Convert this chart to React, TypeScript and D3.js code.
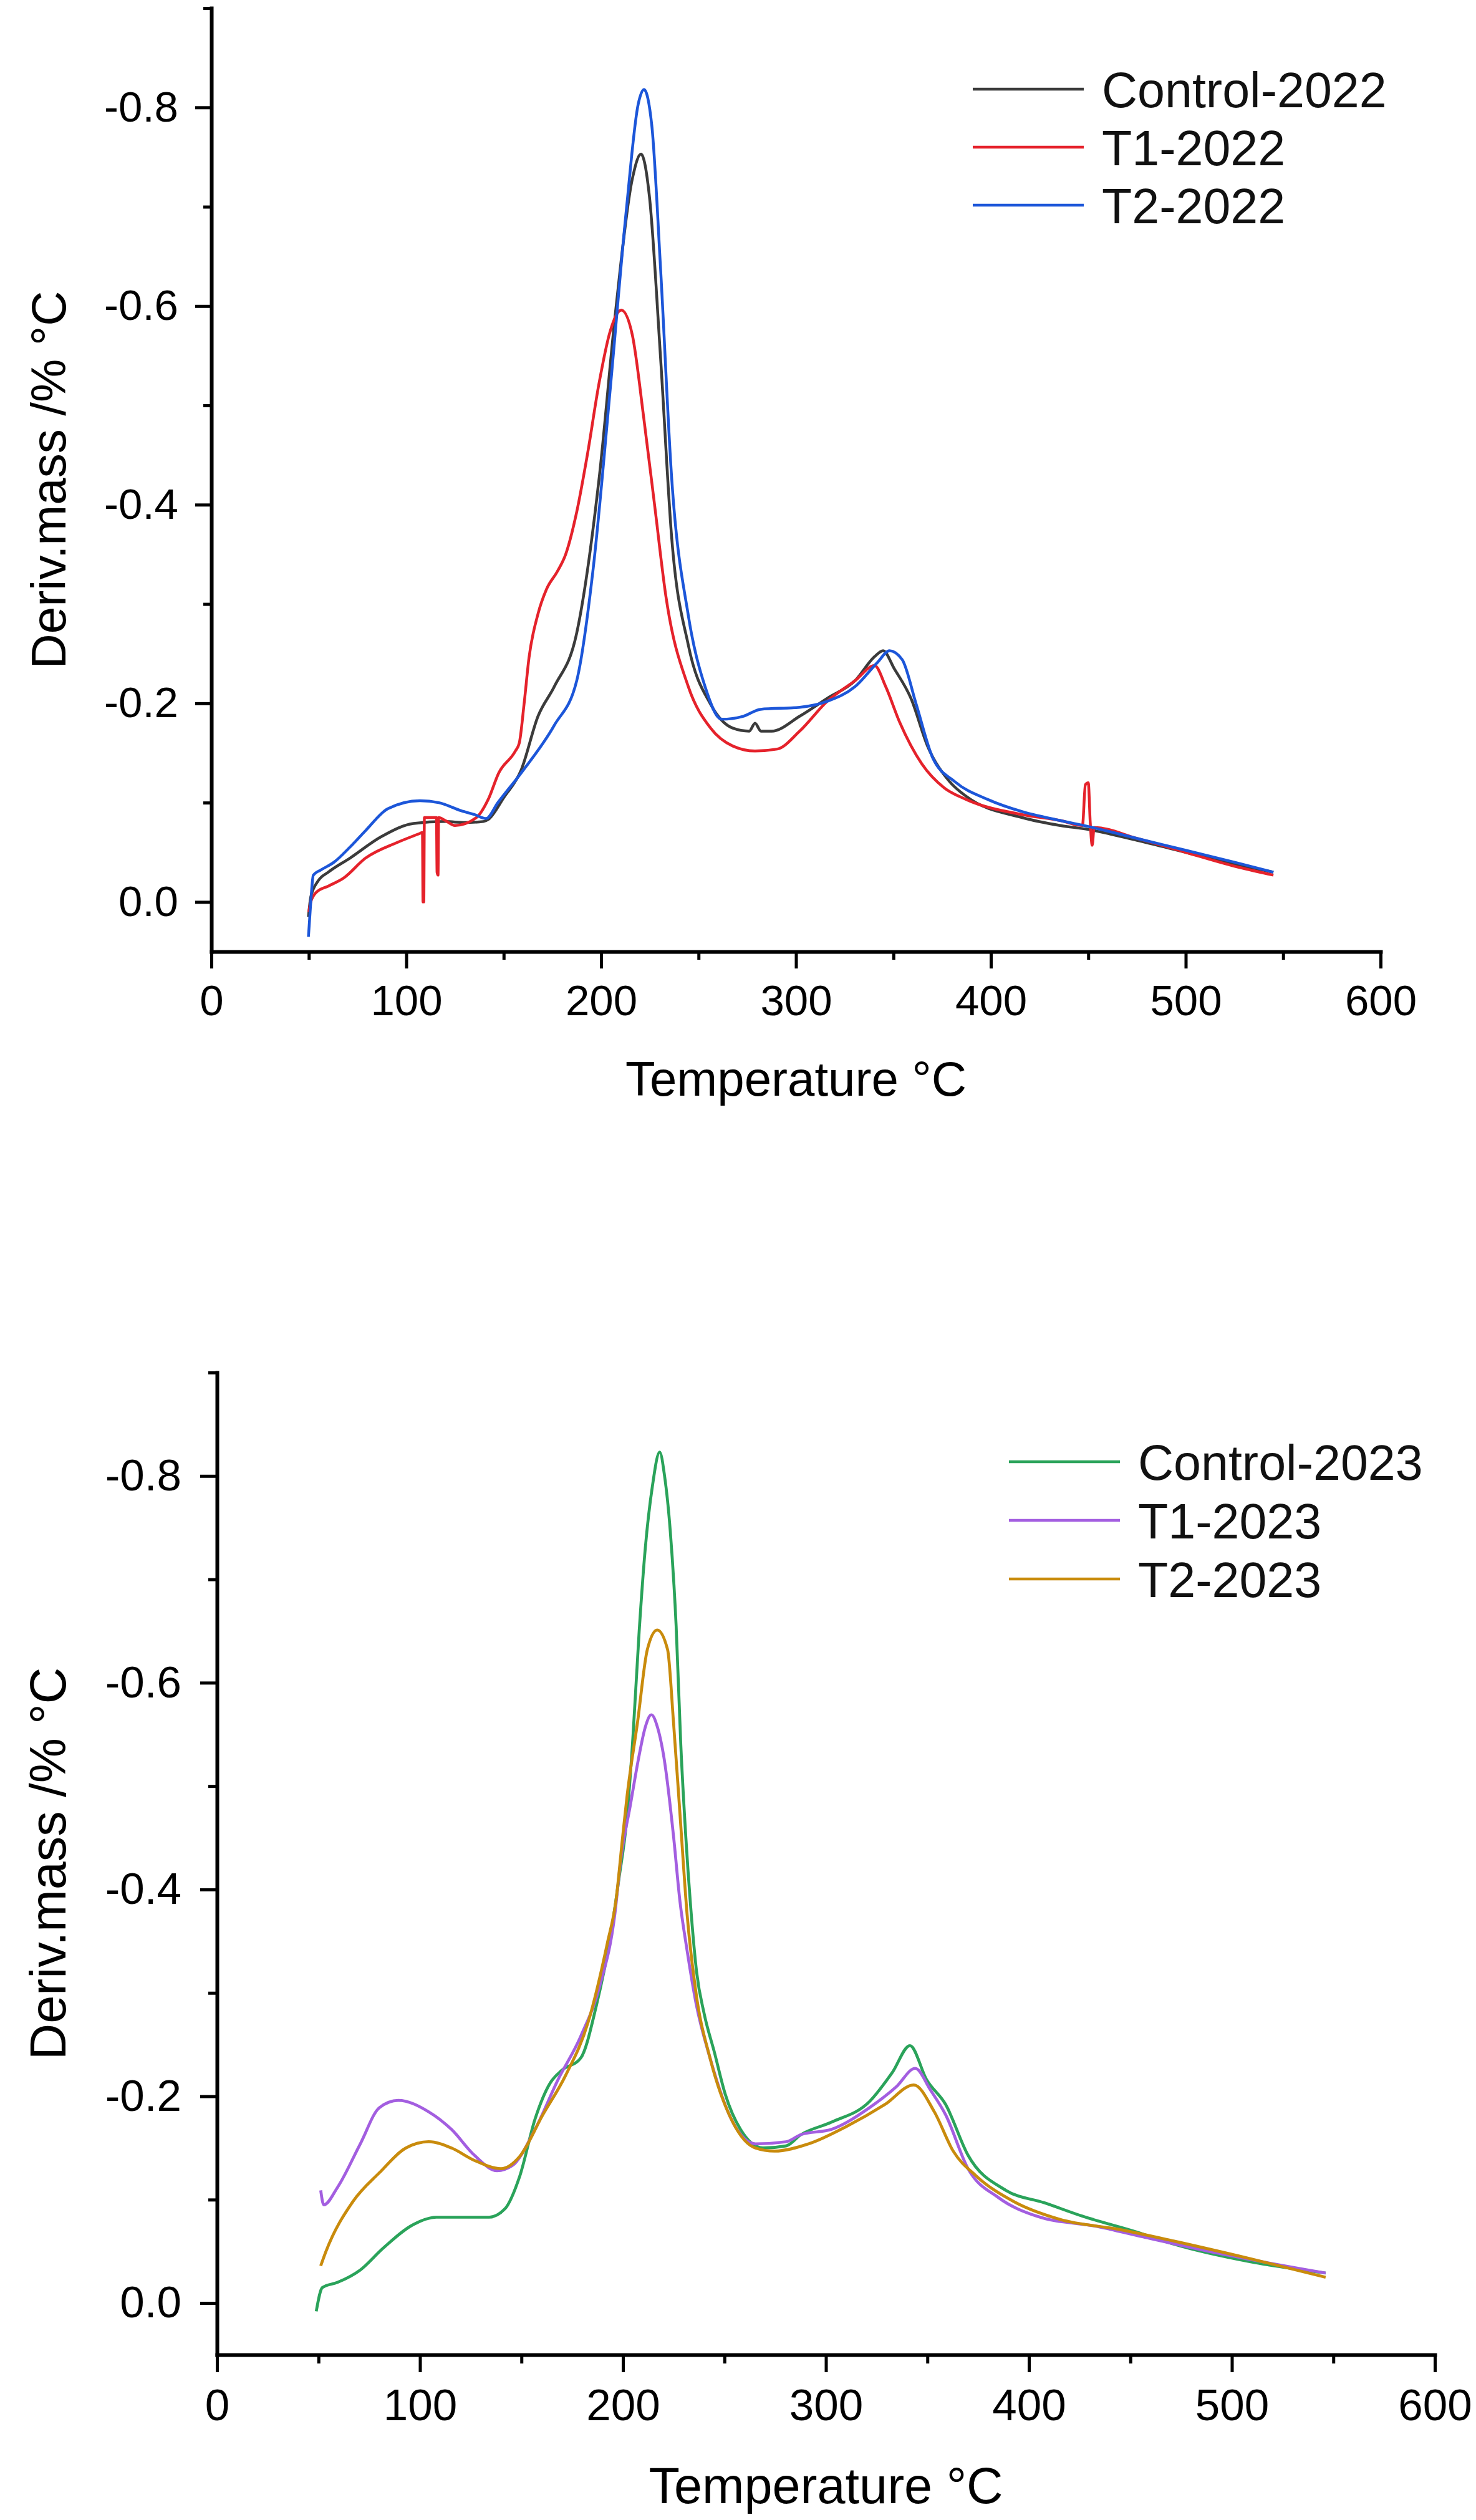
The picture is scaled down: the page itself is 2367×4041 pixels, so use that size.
import * as d3 from "d3";
import { useEffect, useRef } from "react";

type Pt = [number, number];

const xTicks = [0, 100, 200, 300, 400, 500, 600];
const xMinorTicks = [50, 150, 250, 350, 450, 550];
const yTicks = [0, -0.2, -0.4, -0.6, -0.8];
const yMinorTicks = [-0.1, -0.3, -0.5, -0.7, -0.9];

const xTitle = "Temperature °C";
const yTitle = "Deriv.mass /% °C";

// 2022 series: [temperature °C, deriv. mass %/°C]
const control2022: Pt[] = [
  [49.8, 0.015], [51, -0.005], [54.7, -0.021], [60, -0.03], [71, -0.044], [87.4, -0.066],
  [103.7, -0.079], [120, -0.081], [130, -0.08], [139.6, -0.081], [142, -0.083], [150, -0.105],
  [159, -0.133], [167.6, -0.187], [176, -0.217], [187.5, -0.271], [199, -0.427], [207.5, -0.596],
  [216, -0.728], [220.5, -0.753], [224.8, -0.71], [230.5, -0.548], [236.2, -0.367], [244.7, -0.259],
  [256.2, -0.199], [267.6, -0.175], [276, -0.172], [279, -0.18], [282, -0.172], [287.5, -0.172],
  [301.9, -0.187], [316, -0.205], [330.4, -0.223], [340.3, -0.247], [344.7, -0.253], [350.4, -0.235],
  [359, -0.205], [367.5, -0.157], [378.9, -0.121], [387.6, -0.106], [416, -0.085], [435.6, -0.077],
  [450, -0.073], [475, -0.062], [500, -0.05], [525, -0.038], [545, -0.03],
];

const t1_2022: Pt[] = [
  [50, 0.01], [51, 0.0], [54, -0.01], [60, -0.016], [67.8, -0.024], [79, -0.044], [95.5, -0.06],
  [107, -0.069], [108.3, -0.07], [108.6, 0.0], [109, 0.0], [109.3, -0.085], [115.5, -0.085],
  [115.8, -0.03], [116.3, -0.027], [116.6, -0.085], [120, -0.082], [125, -0.077], [136, -0.085],
  [142, -0.103], [147.5, -0.13], [156, -0.152], [158, -0.16], [160.5, -0.2], [163, -0.246],
  [167.6, -0.29], [172, -0.315], [177.6, -0.333], [181.8, -0.35], [187.5, -0.393], [193, -0.451],
  [199, -0.523], [204.7, -0.575], [210.4, -0.596], [216, -0.571], [221.9, -0.487], [227.6, -0.397],
  [233.3, -0.307], [244.7, -0.217], [256.2, -0.175], [267.6, -0.157], [279, -0.152], [290.4, -0.154],
  [301.9, -0.172], [316, -0.202], [330.4, -0.223], [340.3, -0.238], [346, -0.217], [353.2, -0.181],
  [364.6, -0.139], [376, -0.115], [387.6, -0.103], [416, -0.088], [435.6, -0.082], [447, -0.077],
  [448.5, -0.118], [450, -0.12], [451, -0.08], [452, -0.057], [453, -0.075], [475, -0.064],
  [500, -0.05], [525, -0.036], [545, -0.027],
];

const t2_2022: Pt[] = [
  [49.8, 0.035], [51, 0.0], [52.3, -0.027], [56, -0.032], [62.9, -0.04], [71, -0.055], [79.2, -0.072],
  [90.6, -0.094], [107, -0.102], [116.7, -0.1], [128, -0.092], [135, -0.088], [141, -0.084],
  [147, -0.1], [159, -0.13], [176, -0.178], [187.5, -0.223], [196, -0.337], [204.7, -0.517],
  [213, -0.698], [219, -0.803], [222, -0.818], [226, -0.782], [230.5, -0.638], [236.2, -0.427],
  [244.7, -0.289], [253.3, -0.217], [261.8, -0.184], [273, -0.187], [281.8, -0.194], [301.9, -0.196],
  [316, -0.202], [330.4, -0.217], [341.7, -0.241], [348, -0.253], [354.5, -0.244], [361.7, -0.199],
  [370.2, -0.145], [381.6, -0.121], [398.7, -0.103], [416, -0.091], [435.6, -0.082], [450, -0.076],
  [475, -0.064], [500, -0.052], [525, -0.04], [545, -0.03],
];

// 2023 series
const control2023: Pt[] = [
  [48.9, 0.008], [51.9, -0.015], [59.4, -0.02], [70.6, -0.032], [81.8, -0.053], [96.8, -0.076],
  [108, -0.083], [134, -0.083], [141.8, -0.091], [149.2, -0.123], [156.7, -0.178], [164.2, -0.213],
  [169.8, -0.225], [179.2, -0.237], [186.7, -0.286], [194.2, -0.359], [198, -0.41], [202, -0.47],
  [205, -0.55], [208, -0.65], [211, -0.73], [214.5, -0.79], [218.1, -0.823], [220.5, -0.8],
  [223.3, -0.747], [226.2, -0.655], [228.5, -0.54], [231, -0.45], [233.5, -0.38], [236.3, -0.32],
  [240, -0.28], [245, -0.243], [250.4, -0.202], [257.9, -0.168], [269, -0.15], [280.3, -0.152],
  [287.8, -0.163], [302.8, -0.175], [321.5, -0.195], [332.7, -0.223], [341.4, -0.249], [349.6, -0.216],
  [359, -0.192], [370, -0.143], [388.7, -0.109], [407.6, -0.097], [426.4, -0.084], [452.6, -0.069],
  [471.3, -0.057], [508.8, -0.04], [546.2, -0.029],
];

const t1_2023: Pt[] = [
  [51.1, -0.109], [52.6, -0.095], [59.4, -0.112], [70.6, -0.154], [80, -0.189], [89.3, -0.196],
  [104.3, -0.185], [115.5, -0.168], [126.8, -0.143], [138, -0.128], [145.5, -0.133], [156.7, -0.168],
  [168, -0.216], [179.2, -0.258], [188.6, -0.307], [196, -0.376], [199, -0.43], [203.5, -0.48],
  [208, -0.53], [211, -0.557], [214, -0.569], [217, -0.557], [220, -0.53], [225, -0.45],
  [228, -0.39], [231.6, -0.341], [236, -0.29], [242.9, -0.237], [254.1, -0.175], [265.3, -0.154],
  [280.3, -0.156], [287.8, -0.163], [302.8, -0.168], [321.5, -0.189], [334.6, -0.209], [344, -0.227],
  [351.5, -0.206], [359, -0.182], [370, -0.13], [385, -0.102], [403.9, -0.084], [433.9, -0.074],
  [456.3, -0.064], [493.7, -0.048], [546.2, -0.029],
];

const t2_2023: Pt[] = [
  [51.1, -0.036], [53.7, -0.05], [66.9, -0.098], [80, -0.126], [93.1, -0.15], [104.3, -0.156],
  [115.5, -0.15], [126.8, -0.138], [139.9, -0.13], [149.2, -0.142], [160.5, -0.182], [171.7, -0.22],
  [182.9, -0.272], [192.3, -0.348], [196.6, -0.39], [199.8, -0.45], [202, -0.49], [207.2, -0.562],
  [212, -0.632], [216.9, -0.651], [222, -0.632], [224.9, -0.562], [228.2, -0.47], [231.6, -0.376],
  [236, -0.3], [242.9, -0.237], [254.1, -0.175], [265.3, -0.15], [274.6, -0.147], [291.5, -0.154],
  [310.3, -0.171], [329, -0.192], [343.3, -0.211], [353.4, -0.185], [362.7, -0.147], [374, -0.123],
  [392.7, -0.098], [415.1, -0.081], [445, -0.071], [471.3, -0.06], [508.8, -0.043], [546.2, -0.025],
];

const names2022 = ["Control-2022", "T1-2022", "T2-2022"];
const names2023 = ["Control-2023", "T1-2023", "T2-2023"];
const colors2022 = ["#3b3b3b", "#e5222b", "#1c56d9"];
const colors2023 = ["#2aa35a", "#a35ee0", "#c98b0c"];

const panels = [
  {
    names: names2022, colors: colors2022, series: [control2022, t1_2022, t2_2022],
    left: 339, right: 2214, top: 13, bottom: 1526,
    tick: 69, title: 78, legend: 79, major: 27, minor: 13, xPad: 26, yPad: 27,
    xTitleY: 1757, yTitleX: 105, legendX: 1560, legendY: 143, legendGap: 93, stroke: 4.5,
  },
  {
    names: names2023, colors: colors2023, series: [control2023, t1_2023, t2_2023],
    left: 348, right: 2301, top: 2201, bottom: 3776,
    tick: 71, title: 81, legend: 79, major: 28, minor: 14, xPad: 27, yPad: 30,
    xTitleY: 4014, yTitleX: 105, legendX: 1618, legendY: 2344, legendGap: 94, stroke: 4.7,
  },
];

const FONT = "'Liberation Sans', Arial, sans-serif";

function App() {
  const svgRef = useRef<SVGSVGElement>(null);

  useEffect(() => {
    const svg = d3.select(svgRef.current);
    svg.selectAll("*").remove();

    panels.forEach((p) => {
      const x = d3.scaleLinear().domain([0, 600]).range([p.left, p.right]);
      const y = d3.scaleLinear().domain([0.05, -0.9]).range([p.bottom, p.top]);
      const g = svg.append("g");

      const line = d3
        .line<Pt>()
        .x((d) => x(d[0]))
        .y((d) => y(d[1]))
        .curve(d3.curveMonotoneX);

      p.series.forEach((s, i) => {
        g.append("path")
          .datum(s)
          .attr("d", line)
          .attr("fill", "none")
          .attr("stroke", p.colors[i])
          .attr("stroke-width", p.stroke)
          .attr("stroke-linejoin", "round");
      });

      // x axis
      const xAxis = g
        .append("g")
        .attr("transform", `translate(0,${p.bottom})`)
        .call(
          d3.axisBottom(x).tickValues(xTicks).tickSize(p.major).tickSizeOuter(0)
            .tickPadding(p.xPad).tickFormat((d) => String(d))
        );
      const xMinor = g
        .append("g")
        .attr("transform", `translate(0,${p.bottom})`)
        .call(d3.axisBottom(x).tickValues(xMinorTicks).tickSize(p.minor).tickFormat(() => ""));
      xMinor.select(".domain").remove();

      // y axis
      const yAxis = g
        .append("g")
        .attr("transform", `translate(${p.left},0)`)
        .call(
          d3.axisLeft(y).tickValues(yTicks).tickSize(p.major - 1).tickSizeOuter(0)
            .tickPadding(p.yPad).tickFormat((d) => (+d).toFixed(1))
        );
      const yMinor = g
        .append("g")
        .attr("transform", `translate(${p.left},0)`)
        .call(d3.axisLeft(y).tickValues(yMinorTicks).tickSize(p.minor).tickFormat(() => ""));
      yMinor.select(".domain").remove();

      [xAxis, yAxis, xMinor, yMinor].forEach((a) => {
        a.attr("font-size", p.tick).attr("font-family", FONT);
        a.selectAll(".domain").attr("stroke", "#000").attr("stroke-width", 6).attr("stroke-linecap", "square");
        a.selectAll(".tick line").attr("stroke", "#000").attr("stroke-width", 5);
        a.selectAll(".tick text").attr("fill", "#000");
      });

      // axis titles
      g.append("text")
        .attr("x", x(300))
        .attr("y", p.xTitleY)
        .attr("text-anchor", "middle")
        .attr("font-family", FONT)
        .attr("font-size", p.title)
        .text(xTitle);

      g.append("text")
        .attr("transform", `translate(${p.yTitleX},${(p.top + p.bottom) / 2}) rotate(-90)`)
        .attr("text-anchor", "middle")
        .attr("font-family", FONT)
        .attr("font-size", p.title)
        .text(yTitle);

      // legend
      const lg = g.append("g");
      p.names.forEach((name, i) => {
        const ly = p.legendY + i * p.legendGap;
        lg.append("line")
          .attr("x1", p.legendX)
          .attr("x2", p.legendX + 178)
          .attr("y1", ly)
          .attr("y2", ly)
          .attr("stroke", p.colors[i])
          .attr("stroke-width", p.stroke);
        lg.append("text")
          .attr("x", p.legendX + 207)
          .attr("y", ly + 29)
          .attr("font-family", FONT)
          .attr("font-size", p.legend)
          .attr("fill", "#111")
          .text(name);
      });
    });
  }, []);

  return (
    <svg
      ref={svgRef}
      width={2367}
      height={4041}
      style={{ position: "absolute", left: 0, top: 0, background: "#fff", display: "block" }}
    ></svg>
  );
}

export default App;
